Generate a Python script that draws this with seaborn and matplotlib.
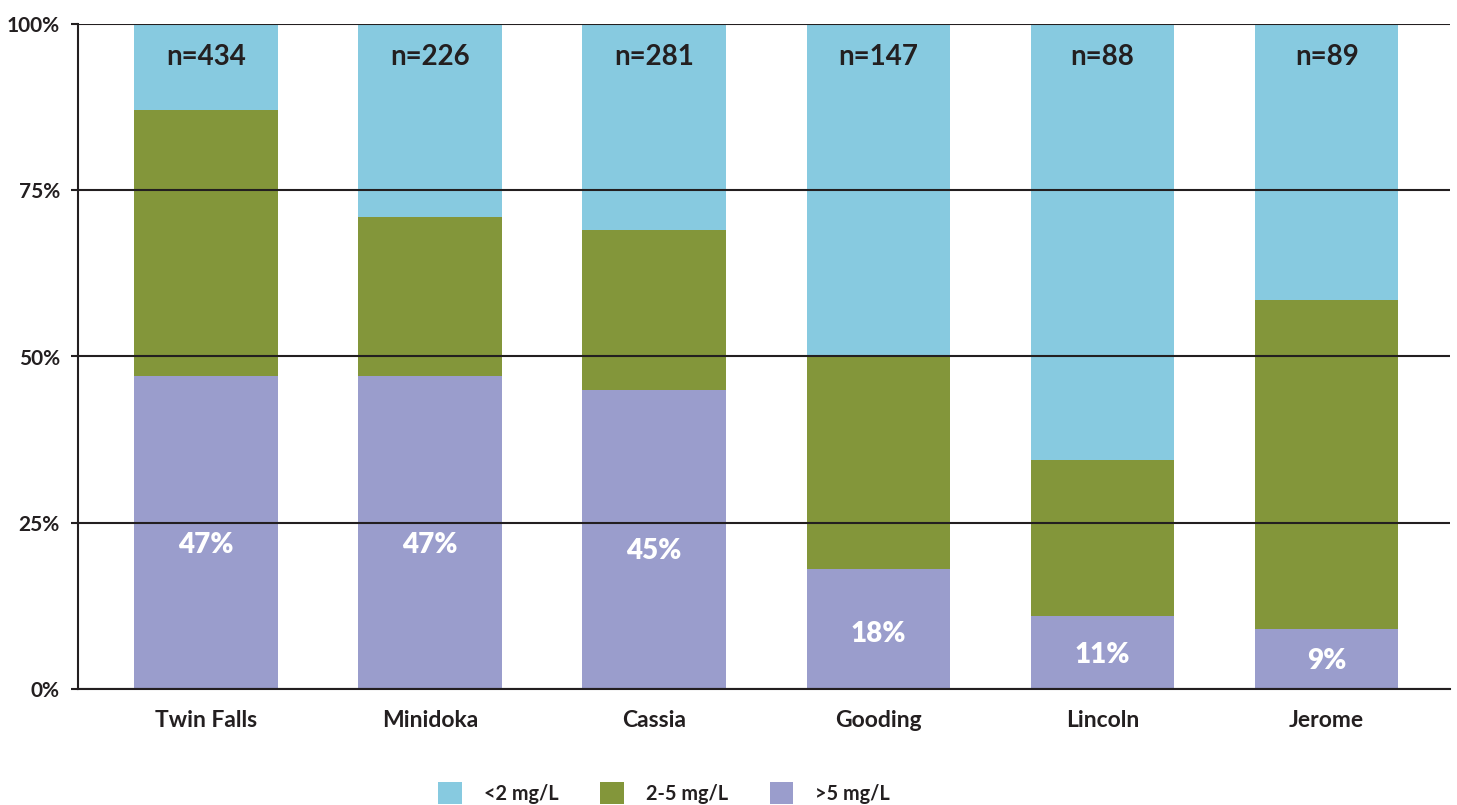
import matplotlib
matplotlib.use("Agg")
import matplotlib.pyplot as plt
from matplotlib.patches import Patch
import numpy as np
import pandas as pd
import seaborn as sns

# Nitrate concentration share of sampled wells, by county
counties = ["Twin Falls", "Minidoka", "Cassia", "Gooding", "Lincoln", "Jerome"]
sample_sizes = [434, 226, 281, 147, 88, 89]
above_5 = [47, 47, 45, 18, 11, 9]          # >5 mg/L
between_2_5 = [40, 24, 24, 32, 23.5, 49.5]  # 2-5 mg/L
below_2 = [13, 29, 31, 50, 65.5, 41.5]      # <2 mg/L
series_names = ["<2 mg/L", "2-5 mg/L", ">5 mg/L"]
y_ticks = [0, 25, 50, 75, 100]

BLUE = "#87CAE0"
GREEN = "#83963A"
PURPLE = "#9A9DCC"
INK = "#231F20"

sns.set_theme(style="white")
plt.rcParams["font.family"] = ["Lato", "DejaVu Sans"]
plt.rcParams["font.weight"] = "bold"

df = pd.DataFrame({
    "county": counties,
    "above": above_5,
    "mid": between_2_5,
    "low": below_2,
})
df["top_mid"] = df["above"] + df["mid"]
df["top_low"] = df["top_mid"] + df["low"]

fig = plt.figure(figsize=(14.57, 8.05), dpi=100)
ax = fig.add_axes([78 / 1457, 1 - 689 / 805, (1450 - 78) / 1457, (689 - 24) / 805])

# Stacked layers, drawn back to front from cumulative heights
for col, color in [("top_low", BLUE), ("top_mid", GREEN), ("above", PURPLE)]:
    sns.barplot(data=df, x="county", y=col, color=color, width=0.64,
                saturation=1, ax=ax, linewidth=0, order=counties)

ax.set_xlim(-0.57, 5.55)
ax.set_ylim(0, 100)
ax.set_yticks(y_ticks)
ax.set_yticklabels([f"{t}%" for t in y_ticks])
ax.set_xlabel("")
ax.set_ylabel("")

# Horizontal rules sit on top of the bars
ax.set_axisbelow(False)
ax.yaxis.grid(True, color=INK, linewidth=1.5)
ax.xaxis.grid(False)

for side in ["top", "right"]:
    ax.spines[side].set_visible(False)
for side in ["left", "bottom"]:
    ax.spines[side].set_color(INK)
    ax.spines[side].set_linewidth(1.5)

ax.tick_params(axis="y", length=5, width=1.5, color=INK, pad=8,
               labelsize=15, labelcolor=INK, left=True)
ax.tick_params(axis="x", length=0, pad=15, labelsize=16.5, labelcolor=INK)
for lab in ax.get_xticklabels() + ax.get_yticklabels():
    lab.set_fontweight("bold")

# Value labels inside the >5 mg/L segments, sample sizes near the top
for i, (pct, n) in enumerate(zip(above_5, sample_sizes)):
    ax.text(i, pct * 0.46, f"{pct:g}%", ha="center", va="center", color="white",
            fontsize=20, fontweight="heavy", zorder=5)
    ax.text(i, 95, f"n={n}", ha="center", va="center", color=INK,
            fontsize=20, fontweight="bold", zorder=5)

handles = [Patch(facecolor=c, edgecolor="none") for c in (BLUE, GREEN, PURPLE)]
leg = fig.legend(handles, series_names, loc="center",
                 bbox_to_anchor=(664 / 1457, 1 - 793 / 805), ncol=3,
                 frameon=False, handlelength=1.2, handleheight=1.4,
                 handletextpad=1.1, columnspacing=2.1, borderpad=0,
                 prop={"weight": "bold", "size": 14.3})
for t in leg.get_texts():
    t.set_color(INK)

fig.savefig("out.png", dpi=100)
